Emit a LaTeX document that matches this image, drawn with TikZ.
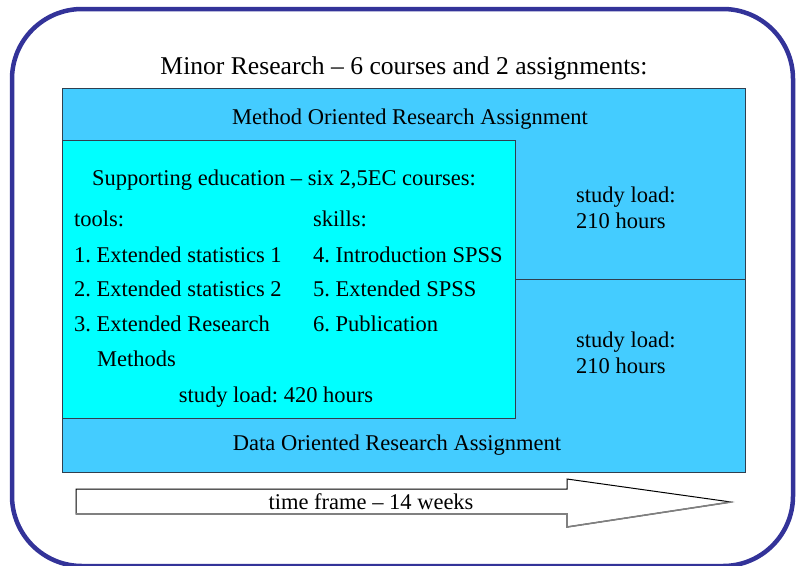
\documentclass[tikz,border=0pt]{standalone}
\usepackage{fontspec}
\setmainfont{Liberation Serif}
\frenchspacing
\definecolor{frameblue}{HTML}{333399}
\definecolor{skyfill}{HTML}{44CCFF}
\definecolor{cyanfill}{HTML}{00FFFF}
\definecolor{edgegray}{HTML}{2F3F4F}
\tikzset{
  txt/.style={inner sep=0pt, font=\fontsize{22.5}{26}\selectfont\frenchspacing, text height=0.7em, text depth=0.22em, yshift=-5pt},
  ttl/.style={inner sep=0pt, font=\fontsize{25.6}{30}\selectfont, text height=0.7em, text depth=0.22em, yshift=-5pt},
  boxedge/.style={draw=edgegray, line width=1pt}
}
\begin{document}
\begin{tikzpicture}[x=1pt,y=-1pt]
\useasboundingbox (0,0) rectangle (799,565);
% outer rounded frame
\draw[frameblue, line width=4.5pt, rounded corners=70pt] (12,9) rectangle (793,566);
% title
\node[ttl] (title) at (404,67) {Minor Research – 6 courses and 2 assignments:};
% big blue area
\path[fill=skyfill, boxedge] (62,88) rectangle (745,472);
\coordinate (divL) at (515,279);
\coordinate (divR) at (745,279);
\draw[boxedge] (divL) -- (divR);
% cyan box
\path[fill=cyanfill, boxedge] (62,140) rectangle (515,418);
% texts
\node[txt] (mora) at (410,117) {Method Oriented Research Assignment};
\node[txt] (dora) at (397,443) {Data Oriented Research Assignment};
\node[txt, anchor=west] (sl1a) at (576,195) {study load:};
\node[txt, anchor=west] (sl1b) at (576,221) {210 hours};
\node[txt, anchor=west] (sl2a) at (576,340) {study load:};
\node[txt, anchor=west] (sl2b) at (576,366) {210 hours};
\node[txt] (sup) at (284,178) {Supporting education – six 2,5EC courses:};
\node[txt, anchor=west] (tools) at (74,219) {tools:};
\node[txt, anchor=west] (skills) at (313,219) {skills:};
\node[txt, anchor=west] (c1) at (74,255) {1. Extended statistics 1};
\node[txt, anchor=west] (c2) at (74,289) {2. Extended statistics 2};
\node[txt, anchor=west] (c3) at (74,324) {3. Extended Research};
\node[txt, anchor=west] (c3b) at (97,359) {Methods};
\node[txt, anchor=west] (c4) at (313,255) {4. Introduction SPSS};
\node[txt, anchor=west] (c5) at (313,289) {5. Extended SPSS};
\node[txt, anchor=west] (c6) at (313,324) {6. Publication};
\node[txt] (sl420) at (276,395) {study load: 420 hours};
% time arrow
\draw[black, line width=1pt, fill=white, line join=miter]
  (76,489) -- (567,489) -- (567,479) -- (731,502) -- (567,527) -- (567,514) -- (76,514) -- cycle;
\draw[gray, line width=1.6pt] (76,514) -- (567,514) -- (567,527) -- (731,502);
\node[txt] (tf) at (371,502) {time frame – 14 weeks};
\end{tikzpicture}
\end{document}
